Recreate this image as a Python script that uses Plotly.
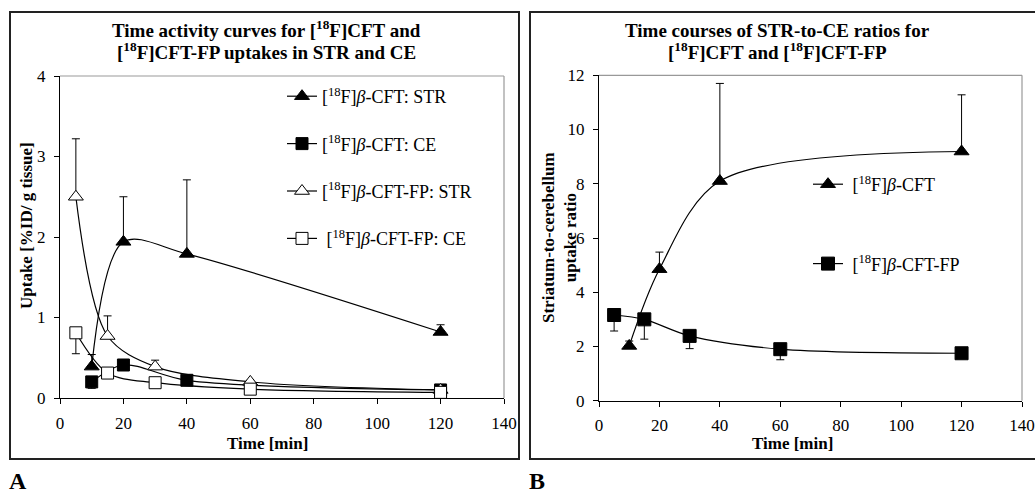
import plotly.graph_objects as go

W, H = 1035, 495
FONT = "Liberation Serif"

# ---- Panel A data ----
t_cft = [10, 20, 40, 120]
cft_str = [0.39, 1.94, 1.79, 0.82]
cft_str_err = [0.15, 0.56, 0.92, 0.09]
cft_ce = [0.2, 0.41, 0.22, 0.1]
cft_ce_err = [0.08, 0.04, 0.02, 0.01]

t_fp = [5, 15, 30, 60, 120]
fp_str = [2.5, 0.77, 0.39, 0.2, 0.1]
fp_str_err = [0.72, 0.25, 0.08, 0.02, 0.0]
fp_ce = [0.81, 0.31, 0.19, 0.11, 0.07]
fp_ce_err = [0.26, 0.02, 0.02, 0.02, 0.0]

# ---- Panel B data ----
t_ratio_cft = [10, 20, 40, 120]
ratio_cft = [2.02, 4.85, 8.1, 9.19]
ratio_cft_err = [0.18, 0.63, 3.6, 2.09]
t_ratio_fp = [5, 15, 30, 60, 120]
ratio_fp = [3.16, 3.0, 2.39, 1.9, 1.75]
ratio_fp_err = [0.59, 0.73, 0.47, 0.39, 0.0]

x_ticks = [0, 20, 40, 60, 80, 100, 120, 140]

def px(x):
    return x / W

def py(y):
    return 1 - y / H

fig = go.Figure()

def add(x, y, err, up, symbol, fill, name, xa, ya, legend, group, msize):
    ey = dict(type="data", symmetric=False, color="black", thickness=1, width=4)
    zeros = [0] * len(err)
    if up:
        ey.update(array=err, arrayminus=zeros)
    else:
        ey.update(array=zeros, arrayminus=err)
    fig.add_trace(go.Scatter(
        x=x, y=y, mode="lines+markers", name=name,
        line=dict(color="black", width=1.2, shape="spline", smoothing=0.9),
        marker=dict(symbol=symbol, size=msize, color=fill, line=dict(color="black", width=1)),
        error_y=ey, xaxis=xa, yaxis=ya, legend=legend, legendgroup=group,
    ))

add(t_cft, cft_str, cft_str_err, True, "triangle-up", "black",
    "[<sup>18</sup>F]<i>β</i>-CFT: STR", "x", "y", "legend", "a1", 13)
add(t_cft, cft_ce, cft_ce_err, False, "square", "black",
    "[<sup>18</sup>F]<i>β</i>-CFT: CE", "x", "y", "legend", "a2", 12)
add(t_fp, fp_str, fp_str_err, True, "triangle-up", "white",
    "[<sup>18</sup>F]<i>β</i>-CFT-FP: STR", "x", "y", "legend", "a3", 13)
add(t_fp, fp_ce, fp_ce_err, False, "square", "white",
    " [<sup>18</sup>F]<i>β</i>-CFT-FP: CE", "x", "y", "legend", "a4", 12)

add(t_ratio_cft, ratio_cft, ratio_cft_err, True, "triangle-up", "black",
    " [<sup>18</sup>F]<i>β</i>-CFT", "x2", "y2", "legend2", "b1", 13)
add(t_ratio_fp, ratio_fp, ratio_fp_err, False, "square", "black",
    " [<sup>18</sup>F]<i>β</i>-CFT-FP", "x2", "y2", "legend2", "b2", 13)

tickfont = dict(family=FONT, size=17, color="black")
titlefont = dict(family=FONT, size=17, color="black")

axcommon = dict(showgrid=False, zeroline=False, showline=True, linecolor="black",
                linewidth=1.2, ticks="outside", ticklen=5, tickcolor="black",
                tickfont=tickfont, automargin=False)

fig.update_layout(
    width=W, height=H, margin=dict(l=0, r=0, t=0, b=0, autoexpand=False),
    paper_bgcolor="white", plot_bgcolor="white",
    font=dict(family=FONT, color="black"),
    showlegend=True,
    xaxis=dict(domain=[px(60), px(504)], range=[0, 140], tickvals=x_ticks, anchor="y",
               ticklabelstandoff=4, **axcommon),
    yaxis=dict(domain=[py(398), py(76)], range=[0, 4], tickvals=[0, 1, 2, 3, 4], anchor="x",
               ticklabelstandoff=5, **axcommon),
    xaxis2=dict(domain=[px(599), px(1022)], range=[0, 140], tickvals=x_ticks, anchor="y2",
                ticklabelstandoff=4, **axcommon),
    yaxis2=dict(domain=[py(400.7), py(75.3)], range=[0, 12], tickvals=[0, 2, 4, 6, 8, 10, 12], anchor="x2",
                ticklabelstandoff=5, **axcommon),
    legend=dict(x=px(282), y=py(78), xanchor="left", yanchor="top",
                font=dict(family=FONT, size=18, color="black"),
                bgcolor="rgba(0,0,0,0)", tracegroupgap=21, traceorder="grouped"),
    legend2=dict(x=px(808), y=py(166), xanchor="left", yanchor="top",
                 font=dict(family=FONT, size=18, color="black"),
                 bgcolor="rgba(0,0,0,0)", tracegroupgap=53, traceorder="grouped"),
)

shapes = []
# outer frames
shapes.append(dict(type="rect", xref="paper", yref="paper", x0=px(10), x1=px(519), y0=py(459), y1=py(12),
                   line=dict(color="#222", width=2)))
shapes.append(dict(type="rect", xref="paper", yref="paper", x0=px(530), x1=px(1036), y0=py(459), y1=py(12),
                   line=dict(color="#222", width=2)))
# grey top/right borders of plot areas
for xr, yr in (("x domain", "y domain"), ("x2 domain", "y2 domain")):
    shapes.append(dict(type="line", xref=xr, yref=yr, x0=0, x1=1, y0=1, y1=1,
                       line=dict(color="#999", width=1.2), layer="below"))
    shapes.append(dict(type="line", xref=xr, yref=yr, x0=1, x1=1, y0=0, y1=1,
                       line=dict(color="#999", width=1.2), layer="below"))
fig.update_layout(shapes=shapes)

tfont = dict(family=FONT, size=19, color="black")
title_lines = [
    (266, 29, "<b>Time activity curves for [<sup>18</sup>F]CFT and</b>"),
    (266, 51, "<b>[<sup>18</sup>F]CFT-FP uptakes in STR and CE</b>"),
    (777, 31, "<b>Time courses of STR-to-CE ratios for</b>"),
    (777, 51, "<b>[<sup>18</sup>F]CFT and [<sup>18</sup>F]CFT-FP</b>"),
]
for xx, yy, txt in title_lines:
    fig.add_annotation(xref="paper", yref="paper", x=px(xx), y=py(yy), xanchor="center", yanchor="middle",
                       text=txt, showarrow=False, font=tfont)
# axis titles
fig.add_annotation(xref="paper", yref="paper", x=px(267), y=py(443), xanchor="center", yanchor="middle",
                   text="<b>Time [min]</b>", showarrow=False, font=titlefont)
fig.add_annotation(xref="paper", yref="paper", x=px(792), y=py(443), xanchor="center", yanchor="middle",
                   text="<b>Time [min]</b>", showarrow=False, font=titlefont)
fig.add_annotation(xref="paper", yref="paper", x=px(26), y=py(226), xanchor="center", yanchor="middle",
                   text="<b>Uptake [%ID/ g tissue]</b>", textangle=-90, showarrow=False, font=titlefont)
fig.add_annotation(xref="paper", yref="paper", x=px(559), y=py(238), xanchor="center", yanchor="middle",
                   text="<b>Striatum-to-cerebellum<br>uptake ratio</b>", textangle=-90, showarrow=False,
                   font=titlefont)
fig.add_annotation(xref="paper", yref="paper", x=px(8), y=0, xanchor="left", yanchor="bottom",
                   text="<b>A</b>", showarrow=False, borderpad=0,
                   font=dict(family=FONT, size=24, color="black"))
fig.add_annotation(xref="paper", yref="paper", x=px(528), y=0, xanchor="left", yanchor="bottom",
                   text="<b>B</b>", showarrow=False, borderpad=0,
                   font=dict(family=FONT, size=24, color="black"))

fig.write_html("out.html", config={"displayModeBar": False},
               post_script="document.body.style.margin='0';")
